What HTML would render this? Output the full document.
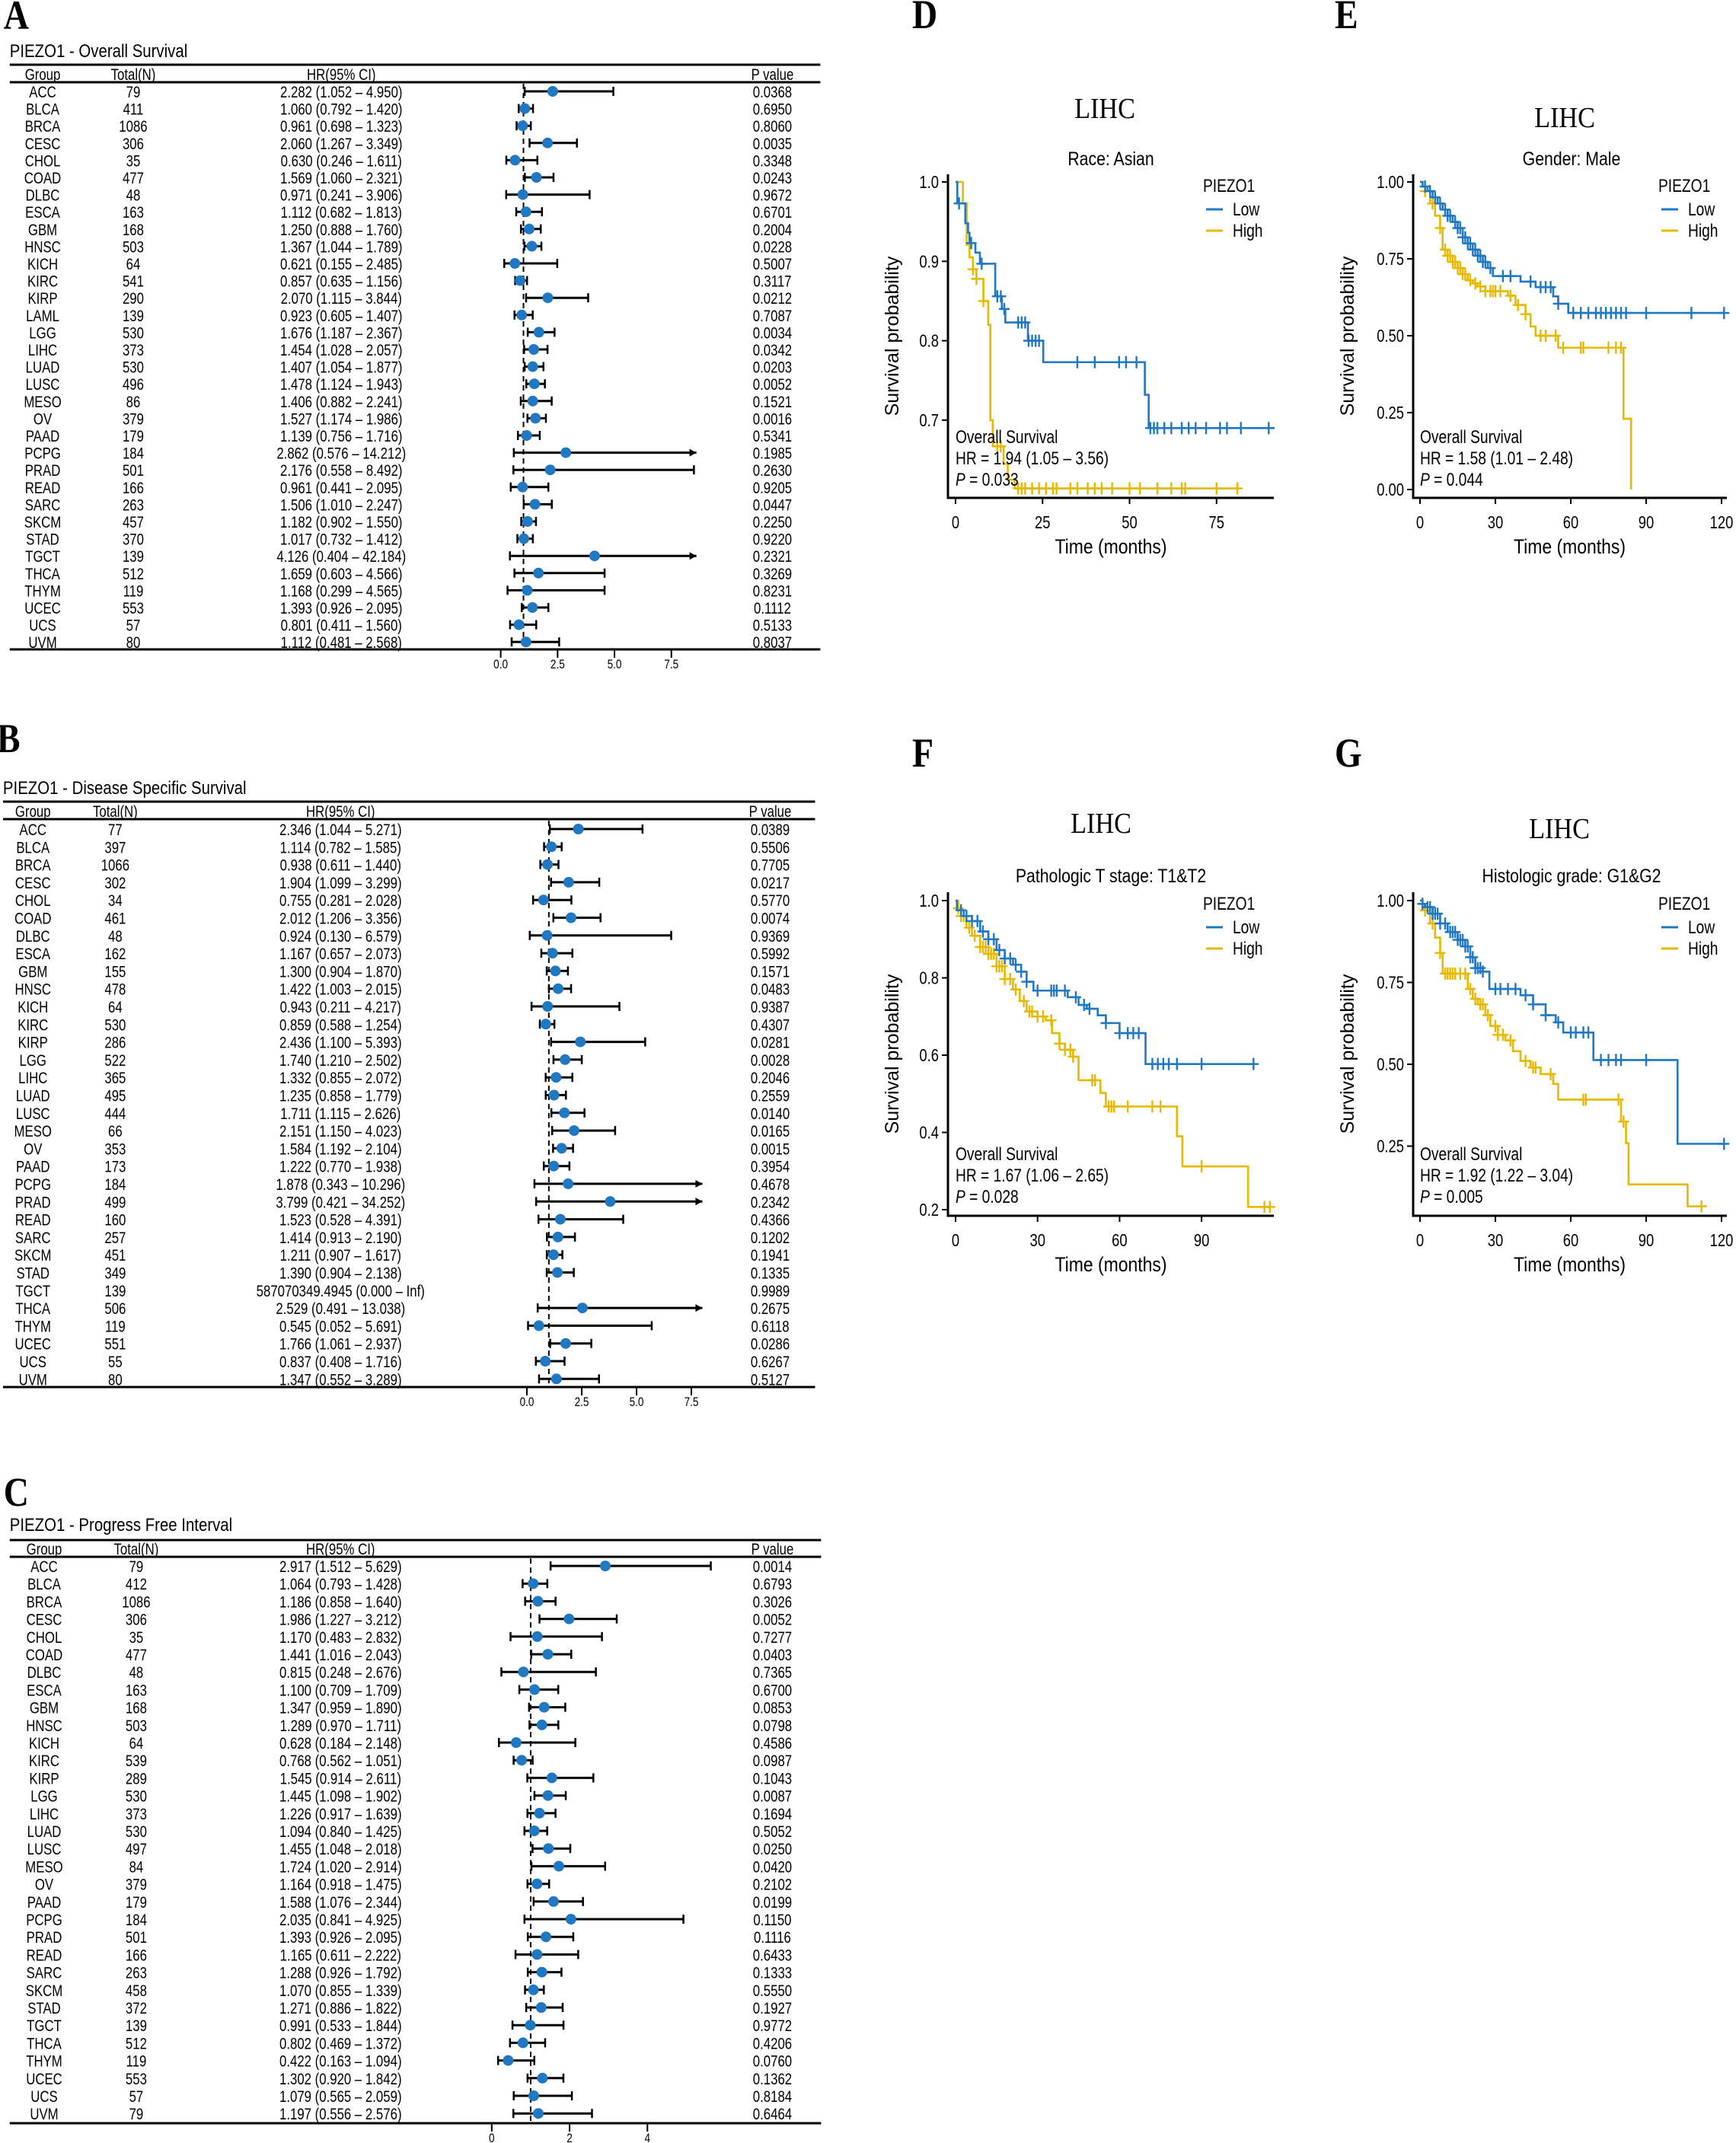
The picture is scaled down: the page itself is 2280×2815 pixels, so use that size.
<!DOCTYPE html>
<html><head><meta charset="utf-8"><title>PIEZO1 survival figure</title>
<style>
html,body{margin:0;padding:0;background:#fff;}
svg{display:block;}
text{font-family:"Liberation Sans",Arial,sans-serif;fill:#000;}
.serif{font-family:"Liberation Serif","Times New Roman",serif;}
</style></head>
<body>
<svg id="fig" xmlns="http://www.w3.org/2000/svg" width="2280" height="2815" viewBox="0 0 2280 2815"></svg>
<script>
// ---------- Forest plot data ----------
const groupsA=["ACC","BLCA","BRCA","CESC","CHOL","COAD","DLBC","ESCA","GBM","HNSC","KICH","KIRC","KIRP","LAML","LGG","LIHC","LUAD","LUSC","MESO","OV","PAAD","PCPG","PRAD","READ","SARC","SKCM","STAD","TGCT","THCA","THYM","UCEC","UCS","UVM"];
const nA=[79,411,1086,306,35,477,48,163,168,503,64,541,290,139,530,373,530,496,86,379,179,184,501,166,263,457,370,139,512,119,553,57,80];
const hrA=["2.282","1.060","0.961","2.060","0.630","1.569","0.971","1.112","1.250","1.367","0.621","0.857","2.070","0.923","1.676","1.454","1.407","1.478","1.406","1.527","1.139","2.862","2.176","0.961","1.506","1.182","1.017","4.126","1.659","1.168","1.393","0.801","1.112"];
const loA=["1.052","0.792","0.698","1.267","0.246","1.060","0.241","0.682","0.888","1.044","0.155","0.635","1.115","0.605","1.187","1.028","1.054","1.124","0.882","1.174","0.756","0.576","0.558","0.441","1.010","0.902","0.732","0.404","0.603","0.299","0.926","0.411","0.481"];
const hiA=["4.950","1.420","1.323","3.349","1.611","2.321","3.906","1.813","1.760","1.789","2.485","1.156","3.844","1.407","2.367","2.057","1.877","1.943","2.241","1.986","1.716","14.212","8.492","2.095","2.247","1.550","1.412","42.184","4.566","4.565","2.095","1.560","2.568"];
const pA=["0.0368","0.6950","0.8060","0.0035","0.3348","0.0243","0.9672","0.6701","0.2004","0.0228","0.5007","0.3117","0.0212","0.7087","0.0034","0.0342","0.0203","0.0052","0.1521","0.0016","0.5341","0.1985","0.2630","0.9205","0.0447","0.2250","0.9220","0.2321","0.3269","0.8231","0.1112","0.5133","0.8037"];
const ticksA=[0,2.5,5,7.5];
const tickLabelsA=["0.0","2.5","5.0","7.5"];

const groupsB=["ACC","BLCA","BRCA","CESC","CHOL","COAD","DLBC","ESCA","GBM","HNSC","KICH","KIRC","KIRP","LGG","LIHC","LUAD","LUSC","MESO","OV","PAAD","PCPG","PRAD","READ","SARC","SKCM","STAD","TGCT","THCA","THYM","UCEC","UCS","UVM"];
const nB=[77,397,1066,302,34,461,48,162,155,478,64,530,286,522,365,495,444,66,353,173,184,499,160,257,451,349,139,506,119,551,55,80];
const hrB=["2.346","1.114","0.938","1.904","0.755","2.012","0.924","1.167","1.300","1.422","0.943","0.859","2.436","1.740","1.332","1.235","1.711","2.151","1.584","1.222","1.878","3.799","1.523","1.414","1.211","1.390","587070349.4945","2.529","0.545","1.766","0.837","1.347"];
const loB=["1.044","0.782","0.611","1.099","0.281","1.206","0.130","0.657","0.904","1.003","0.211","0.588","1.100","1.210","0.855","0.858","1.115","1.150","1.192","0.770","0.343","0.421","0.528","0.913","0.907","0.904","0.000","0.491","0.052","1.061","0.408","0.552"];
const hiB=["5.271","1.585","1.440","3.299","2.028","3.356","6.579","2.073","1.870","2.015","4.217","1.254","5.393","2.502","2.072","1.779","2.626","4.023","2.104","1.938","10.296","34.252","4.391","2.190","1.617","2.138","Inf","13.038","5.691","2.937","1.716","3.289"];
const pB=["0.0389","0.5506","0.7705","0.0217","0.5770","0.0074","0.9369","0.5992","0.1571","0.0483","0.9387","0.4307","0.0281","0.0028","0.2046","0.2559","0.0140","0.0165","0.0015","0.3954","0.4678","0.2342","0.4366","0.1202","0.1941","0.1335","0.9989","0.2675","0.6118","0.0286","0.6267","0.5127"];
const ticksB=[0,2.5,5,7.5];
const tickLabelsB=["0.0","2.5","5.0","7.5"];

const groupsC=["ACC","BLCA","BRCA","CESC","CHOL","COAD","DLBC","ESCA","GBM","HNSC","KICH","KIRC","KIRP","LGG","LIHC","LUAD","LUSC","MESO","OV","PAAD","PCPG","PRAD","READ","SARC","SKCM","STAD","TGCT","THCA","THYM","UCEC","UCS","UVM"];
const nC=[79,412,1086,306,35,477,48,163,168,503,64,539,289,530,373,530,497,84,379,179,184,501,166,263,458,372,139,512,119,553,57,79];
const hrC=["2.917","1.064","1.186","1.986","1.170","1.441","0.815","1.100","1.347","1.289","0.628","0.768","1.545","1.445","1.226","1.094","1.455","1.724","1.164","1.588","2.035","1.393","1.165","1.288","1.070","1.271","0.991","0.802","0.422","1.302","1.079","1.197"];
const loC=["1.512","0.793","0.858","1.227","0.483","1.016","0.248","0.709","0.959","0.970","0.184","0.562","0.914","1.098","0.917","0.840","1.048","1.020","0.918","1.076","0.841","0.926","0.611","0.926","0.855","0.886","0.533","0.469","0.163","0.920","0.565","0.556"];
const hiC=["5.629","1.428","1.640","3.212","2.832","2.043","2.676","1.709","1.890","1.711","2.148","1.051","2.611","1.902","1.639","1.425","2.018","2.914","1.475","2.344","4.925","2.095","2.222","1.792","1.339","1.822","1.844","1.372","1.094","1.842","2.059","2.576"];
const pC=["0.0014","0.6793","0.3026","0.0052","0.7277","0.0403","0.7365","0.6700","0.0853","0.0798","0.4586","0.0987","0.1043","0.0087","0.1694","0.5052","0.0250","0.0420","0.2102","0.0199","0.1150","0.1116","0.6433","0.1333","0.5550","0.1927","0.9772","0.4206","0.0760","0.1362","0.8184","0.6464"];
const ticksC=[0,2,4];
const tickLabelsC=["0","2","4"];

// ---------- KM data ----------
const dLowT=[0.5,2.8,3.6,4,5.7,7,11.4,13.3,14.3,20.8,25.2,54.4,55.5];
const dLowS=[0.973,0.948,0.936,0.923,0.911,0.897,0.856,0.840,0.823,0.80,0.773,0.732,0.69];
const dLowC=[1,4.5,7.5,12,13,14,18,19,20,21,22,23,24,35,40,47,49,52,56,57,58,60,62,65,67,69,72,76,78,82,90];
const dHighT=[2.1,3.2,4,5,6,8,9.4,10,10.7,13.8,15,17];
const dHighS=[0.973,0.921,0.905,0.89,0.878,0.85,0.82,0.70,0.667,0.645,0.625,0.614];
const dHighC=[5,6,8,12,13,18,19,20,22,24,26,28,29,33,35,38,40,42,45,50,53,58,62,65,66,75,81];

const eLowT=[1,3,5,7,9,11,13,15,17,19,21,23,25,27,29,40,46,53,55,59];
const eLowS=[0.985,0.97,0.95,0.93,0.91,0.89,0.87,0.85,0.82,0.80,0.78,0.76,0.74,0.72,0.694,0.676,0.658,0.628,0.604,0.574];
const eLowC=[2,4,6,8,10,11,12,14,15,16,17,18,19,20,21,22,23,24,25,26,28,33,36,44,48,50,52,55,61,64,67,70,72,74,76,78,80,82,90,108,121];
const eHighT=[1,2,4,6,8,9,11,13,15,17,19,21,23,26,35,38,42,44,46,55,81,84];
const eHighS=[0.985,0.97,0.93,0.89,0.85,0.78,0.76,0.74,0.72,0.70,0.68,0.67,0.66,0.645,0.63,0.60,0.57,0.53,0.50,0.461,0.23,0.0];
const eHighC=[2,5,8,10,11,12,13,14,15,16,17,18,20,22,24,26,28,29,30,32,36,39,42,48,50,54,57,64,65,75,78,80];

const fLowT=[0.5,3,6,9,12,15,18,21,24,26,28.5,41,45,48,52,55,60,69.5];
const fLowS=[0.975,0.96,0.947,0.92,0.90,0.872,0.85,0.834,0.816,0.79,0.767,0.75,0.73,0.72,0.703,0.683,0.657,0.577];
const fLowC=[2,4,6,8,10,12,14,16,18,20,22,24,26,30,35,36,37,40,44,47,49,55,60,63,65,67,72,74,76,78,81,90,109];
const fHighT=[1,2,4,6,9,12,15,18,21,23.5,26,30,33,35.3,38,40,43,45,53,55,81,83,107];
const fHighS=[0.98,0.96,0.93,0.909,0.88,0.862,0.83,0.797,0.77,0.74,0.713,0.70,0.69,0.657,0.63,0.614,0.596,0.535,0.502,0.467,0.39,0.312,0.207];
const fHighC=[1,2,3,5,7,9,10,11,12,13,14,15,16,17,18,20,22,25,27,28,30,32,35,38,40,42,43,50,51,56,57,58,63,72,75,90,113,115];

const gLowT=[1,2,5,8,11,15,18,20,22,25,27.6,40,45,50,54,57,69,102.5];
const gLowS=[0.99,0.98,0.96,0.93,0.904,0.88,0.86,0.827,0.794,0.783,0.73,0.711,0.683,0.65,0.628,0.597,0.513,0.257];
const gLowC=[1,3,4,5,6,7,8,10,12,13,14,15,16,17,18,19,20,21,22,23,24,25,30,32,35,38,42,45,50,55,60,62,65,67,72,75,78,80,90,121];
const gHighT=[1,2,4,6,8,9,19,21,23,26,28,31,34,37,40,44,48,53,55,80,82,83,106.5];
const gHighS=[0.99,0.97,0.93,0.887,0.84,0.777,0.73,0.70,0.683,0.65,0.617,0.59,0.573,0.54,0.51,0.49,0.47,0.44,0.392,0.325,0.259,0.133,0.066];
const gHighC=[1,2,5,8,10,11,12,13,14,16,18,20,22,24,25,27,30,31,33,36,42,45,46,52,65,66,79,81,112];

const yTicksD=[1.0,0.9,0.8,0.7], yTickLabD=["1.0","0.9","0.8","0.7"];
const yTicksE=[1.0,0.75,0.5,0.25,0.0], yTickLabE=["1.00","0.75","0.50","0.25","0.00"];
const yTicksF=[1.0,0.8,0.6,0.4,0.2], yTickLabF=["1.0","0.8","0.6","0.4","0.2"];
const yTicksG=[1.0,0.75,0.5,0.25], yTickLabG=["1.00","0.75","0.50","0.25"];
const xTicksD=[0,25,50,75];
const xTicks30=[0,30,60,90];
const xTicks120=[0,30,60,90,120];

// ---------- helpers ----------
const NS="http://www.w3.org/2000/svg";
const svg=document.getElementById('fig');
function mk(tag,attrs,parent){const e=document.createElementNS(NS,tag);for(const k in attrs)e.setAttribute(k,attrs[k]);(parent||svg).appendChild(e);return e;}
function txt(parent,x,y,s,size,anchor,sx,cls,extra){
  const t=mk('text',{transform:`translate(${x},${y}) scale(${sx},1)`,'font-size':size,'text-anchor':anchor},parent);
  if(cls)t.setAttribute('class',cls);
  if(extra)for(const k in extra)t.setAttribute(k,extra[k]);
  t.textContent=s;return t;}
const BLUE="#1f78c1", YEL="#e7b800";

// ---------- Forest panels ----------
function forest(cfg){
  const k=0.983;
  cfg.x0*=k;cfg.unit*=k;cfg.x1*=k;cfg.x2*=k;cfg.cols=cfg.cols.map(c=>c*k);
  const g=mk('g',{});
  
  
  const L=txt(g,cfg.x1-8,cfg.letterY,cfg.letter,54,'start',0.85,'serif',{'font-weight':'bold'});
  
  
  const T=txt(g,cfg.x1,cfg.titleY,cfg.title,24,'start',0.85);
  
  
  [cfg.topLine,cfg.headLine,cfg.bottom].forEach(yy=>{
    const l=mk('line',{x1:cfg.x1,x2:cfg.x2,y1:yy,y2:yy,stroke:'#000','stroke-width':3},g);
    
    
  });
  const heads=["Group","Total(N)","HR(95% CI)","P value"];
  heads.forEach((h,i)=>{const t=txt(g,cfg.cols[i],cfg.headY,h,21,'middle',0.8);
    
    });
  const X=v=>cfg.x0+v*cfg.unit;
  const dl=mk('line',{x1:X(1),x2:X(1),y1:cfg.headLine+2,y2:cfg.bottom,stroke:'#000','stroke-width':2,'stroke-dasharray':'7,5'},g);
  
  
  cfg.ticks.forEach((tv,i)=>{
    const tk=mk('line',{x1:X(tv),x2:X(tv),y1:cfg.bottom,y2:cfg.bottom+11,stroke:'#000','stroke-width':2},g);
    
    
    const tl=txt(g,X(tv),cfg.bottom+25,cfg.tickLabels[i],17,'middle',0.8);
    
    
  });
  cfg.groups.forEach((gr,i)=>{
    const cy=cfg.row0+i*cfg.sp, by=cy+8;
    const hrs=cfg.hr[i], los=cfg.lo[i], his=cfg.hi[i];
    const c1=txt(g,cfg.cols[0],by,gr,21,'middle',0.8);
    
    
    const c2=txt(g,cfg.cols[1],by,String(cfg.n[i]),21,'middle',0.8);
    
    
    const c3=txt(g,cfg.cols[2],by,`${hrs} (${los} \u2013 ${his})`,21,'middle',0.8);
    
    
    const c4=txt(g,cfg.cols[3],by,cfg.p[i],21,'middle',0.8);
    
    
    const h=parseFloat(hrs), lo=parseFloat(los), hi=his==="Inf"?Infinity:parseFloat(his);
    if(h>100)return;
    const clipped=hi>cfg.clip, hiV=Math.min(hi,cfg.clip);
    const ci=mk('line',{x1:X(lo),x2:X(hiV),y1:cy,y2:cy,stroke:'#000','stroke-width':3},g);
    
    
    const capL=mk('line',{x1:X(lo),x2:X(lo),y1:cy-6,y2:cy+6,stroke:'#000','stroke-width':2.5},g);
    
    
    if(clipped){
      const ar=mk('path',{d:`M${X(hiV)},${cy} l-9,-5 l0,10 z`,fill:'#000'},g);
      
      
    }else{
      const capR=mk('line',{x1:X(hiV),x2:X(hiV),y1:cy-6,y2:cy+6,stroke:'#000','stroke-width':2.5},g);
      
      
    }
    const pt=mk('circle',{cx:X(h),cy:cy,r:7,fill:BLUE},g);
    
    
  });
}
forest({name:'forest-overall-survival',letter:'A',title:'PIEZO1 - Overall Survival',letterY:38,titleY:75,topLine:85,headY:105,headLine:108,row0:120,sp:22.6,bottom:853,x1:13,x2:1096,cols:[57,178,456,1032],x0:669,unit:30.4,clip:8.6,ticks:ticksA,tickLabels:tickLabelsA,groups:groupsA,n:nA,hr:hrA,lo:loA,hi:hiA,p:pA});
forest({name:'forest-disease-specific-survival',letter:'B',title:'PIEZO1 - Disease Specific Survival',letterY:988,titleY:1043,topLine:1053,headY:1073,headLine:1076,row0:1089,sp:23.3,bottom:1822,x1:4,x2:1089,cols:[44,154,455,1029],x0:704,unit:29.3,clip:8.0,ticks:ticksB,tickLabels:tickLabelsB,groups:groupsB,n:nB,hr:hrB,lo:loB,hi:hiB,p:pB});
forest({name:'forest-progress-free-interval',letter:'C',title:'PIEZO1 - Progress Free Interval',letterY:1978,titleY:2011,topLine:2023,headY:2042,headLine:2045,row0:2057,sp:23.2,bottom:2789,x1:13,x2:1097,cols:[59,182,455,1032],x0:657,unit:52,clip:5.8,ticks:ticksC,tickLabels:tickLabelsC,groups:groupsC,n:nC,hr:hrC,lo:loC,hi:hiC,p:pC});

// ---------- KM panels ----------
function km(cfg){
  const g=mk('g',{});
  
  
  const X=t=>cfg.x0+t*cfg.ppm;
  const Y=v=>cfg.y1+(1-v)*cfg.ppu;
  const L=txt(g,cfg.letterX,cfg.letterY,cfg.letter,54,'start',0.85,'serif',{'font-weight':'bold'});
  
  
  const t1=txt(g,cfg.titleX,cfg.titleY,'LIHC',38,'middle',0.9,'serif');
  
  
  const t2=txt(g,cfg.subX,cfg.subY,cfg.sub,25,'middle',0.85);
  
  
  [[cfg.high,YEL,'high'],[cfg.low,BLUE,'low']].forEach(([c,col,nm])=>{
    let d=`M${X(0)},${Y(1)}`;
    c.t.forEach((tt,i)=>{d+=` H${X(tt)} V${Y(c.s[i])}`;});
    d+=` H${X(c.end)}`;
    const p=mk('path',{d:d,fill:'none',stroke:col,'stroke-width':2.6},g);
    
    
    c.c.forEach(ct=>{
      let s=1;c.t.forEach((tt,i)=>{if(tt<=ct)s=c.s[i];});
      const m=mk('path',{d:`M${X(ct)-7},${Y(s)} h14 M${X(ct)},${Y(s)-8} v16`,stroke:col,'stroke-width':2.4,fill:'none'},g);
      
      
    });
  });
  const ay=mk('line',{x1:cfg.ax,x2:cfg.ax,y1:cfg.axTop,y2:cfg.axY+1.5,stroke:'#000','stroke-width':3},g);
  
  
  const axx=mk('line',{x1:cfg.ax-1.5,x2:cfg.axEnd,y1:cfg.axY,y2:cfg.axY,stroke:'#000','stroke-width':3},g);
  
  
  cfg.yt.forEach((v,i)=>{
    const tk=mk('line',{x1:cfg.ax-8,x2:cfg.ax,y1:Y(v),y2:Y(v),stroke:'#000','stroke-width':2},g);
    
    
    const tl=txt(g,cfg.ax-12,Y(v)+8,cfg.ytl[i],23,'end',0.8);
    
    
  });
  cfg.xt.forEach(v=>{
    const tk=mk('line',{x1:X(v),x2:X(v),y1:cfg.axY,y2:cfg.axY+8,stroke:'#000','stroke-width':2},g);
    
    
    const tl=txt(g,X(v),cfg.axY+40,String(v),23,'middle',0.8);
    
    
  });
  const xl=txt(g,(cfg.x0+cfg.axEnd)/2-5,cfg.axY+73,'Time (months)',27,'middle',0.85);
  
  
  const yl=mk('text',{transform:`translate(${cfg.ylX},${(cfg.axTop+cfg.axY)/2}) rotate(-90)`,'font-size':25,'text-anchor':'middle'},g);
  yl.textContent='Survival probability';
  
  
  const lg=mk('g',{},g);
  
  
  const lt=txt(lg,cfg.legX,cfg.legY+8,'PIEZO1',24,'start',0.8);
  
  
  [['Low',BLUE,31],['High',YEL,59]].forEach(([s,col,dy])=>{
    const ln=mk('line',{x1:cfg.legX+4,x2:cfg.legX+26,y1:cfg.legY+dy,y2:cfg.legY+dy,stroke:col,'stroke-width':3},lg);
    
    
    const lx=txt(lg,cfg.legX+39,cfg.legY+dy+8,s,24,'start',0.8);
    
    
  });
  const a1=txt(g,cfg.annX,cfg.annY,'Overall Survival',24,'start',0.8);
  
  
  const a2=txt(g,cfg.annX,cfg.annY+28,cfg.hrText,24,'start',0.8);
  
  
  const a3=mk('text',{transform:`translate(${cfg.annX},${cfg.annY+56}) scale(0.8,1)`,'font-size':24},g);
  a3.innerHTML=`<tspan font-style="italic">P</tspan> = ${cfg.p}`;
  
  
}
km({name:'km-race-asian',letter:'D',letterX:1198,letterY:37,titleX:1451,titleY:155,subX:1459,subY:217,sub:'Race: Asian',
  x0:1255,ppm:4.57,y1:239,ppu:1043,ax:1245,axTop:229,axY:654,axEnd:1673,yt:yTicksD,ytl:yTickLabD,xt:xTicksD,ylX:1180,
  legX:1580,legY:244,annX:1255,annY:582,hrText:'HR = 1.94 (1.05 \u2013  3.56)',p:'0.033',
  low:{t:dLowT,s:dLowS,c:dLowC,end:91.7},high:{t:dHighT,s:dHighS,c:dHighC,end:81.5}});
km({name:'km-gender-male',letter:'E',letterX:1753,letterY:37,titleX:2055,titleY:167,subX:2064,subY:217,sub:'Gender: Male',
  x0:1865,ppm:3.3,y1:239,ppu:404,ax:1856,axTop:229,axY:654,axEnd:2268,yt:yTicksE,ytl:yTickLabE,xt:xTicks120,ylX:1778,
  legX:2178,legY:244,annX:1865,annY:582,hrText:'HR = 1.58 (1.01 \u2013  2.48)',p:'0.044',
  low:{t:eLowT,s:eLowS,c:eLowC,end:121},high:{t:eHighT,s:eHighS,c:eHighC,end:84}});
km({name:'km-t-stage-t1-t2',letter:'F',letterX:1198,letterY:1007,titleX:1446,titleY:1094,subX:1459,subY:1159,sub:'Pathologic T stage: T1&T2',
  x0:1255,ppm:3.59,y1:1183,ppu:507.5,ax:1245,axTop:1172,axY:1597,axEnd:1673,yt:yTicksF,ytl:yTickLabF,xt:xTicks30,ylX:1180,
  legX:1580,legY:1187,annX:1255,annY:1524,hrText:'HR = 1.67 (1.06 \u2013  2.65)',p:'0.028',
  low:{t:fLowT,s:fLowS,c:fLowC,end:109},high:{t:fHighT,s:fHighS,c:fHighC,end:115.5}});
km({name:'km-grade-g1-g2',letter:'G',letterX:1753,letterY:1007,titleX:2048,titleY:1101,subX:2064,subY:1159,sub:'Histologic grade: G1&G2',
  x0:1865,ppm:3.3,y1:1183,ppu:430,ax:1856,axTop:1172,axY:1597,axEnd:2268,yt:yTicksG,ytl:yTickLabG,xt:xTicks120,ylX:1778,
  legX:2178,legY:1187,annX:1865,annY:1524,hrText:'HR = 1.92 (1.22 \u2013  3.04)',p:'0.005',
  low:{t:gLowT,s:gLowS,c:gLowC,end:121},high:{t:gHighT,s:gHighS,c:gHighC,end:114}});
</script>
</body></html>
